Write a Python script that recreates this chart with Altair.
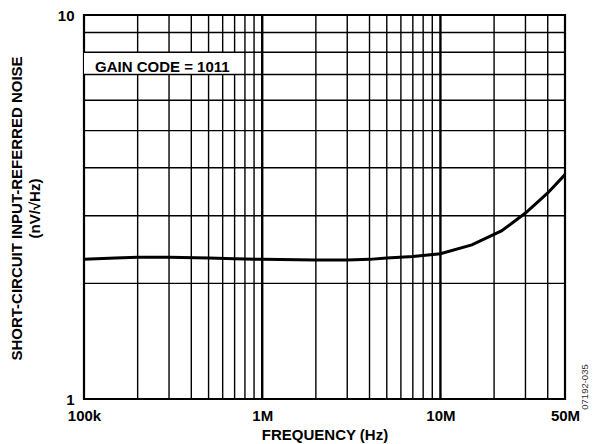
import altair as alt
import pandas as pd

# Curve data (frequency in Hz, noise in nV/√Hz)
freq = [1e5, 1.5e5, 2e5, 3e5, 5e5, 7e5, 1e6, 2e6, 3e6, 4e6, 5e6, 7e6, 1e7, 1.5e7, 2.2e7, 3e7, 4e7, 5e7]
noise = [2.31, 2.33, 2.34, 2.34, 2.33, 2.32, 2.31, 2.30, 2.30, 2.31, 2.33, 2.35, 2.39, 2.52, 2.74, 3.05, 3.44, 3.84]

# Grid positions
x_minor = [2e5, 3e5, 4e5, 5e5, 6e5, 7e5, 8e5, 9e5,
           2e6, 3e6, 4e6, 5e6, 6e6, 7e6, 8e6, 9e6,
           2e7, 3e7, 4e7]
x_major = [1e6, 1e7]
y_grid = [2, 3, 4, 5, 6, 7, 8, 9]

x_ticks = [1e5, 1e6, 1e7, 5e7]
y_ticks = [1, 10]

FONT = "Liberation Sans"
FS = 15

xs = alt.Scale(type="log", domain=[1e5, 5e7], nice=False)
ys = alt.Scale(type="log", domain=[1, 10], nice=False)

label_expr = ("datum.value == 100000 ? '100k' : datum.value == 1000000 ? '1M' : "
              "datum.value == 10000000 ? '10M' : '50M'")

curve_df = pd.DataFrame({"f": freq, "n": noise})

H = 384
W = 481

vminor = alt.Chart(pd.DataFrame({"f": x_minor})).mark_rule(color="black", strokeWidth=1.4).encode(
    x=alt.X("f:Q", scale=xs,
            axis=alt.Axis(values=x_ticks, labelExpr=label_expr, grid=False, ticks=False, domain=False,
                          labelFont=FONT, labelFontSize=FS, labelFontWeight="bold", labelColor="black",
                          labelPadding=21, labelBaseline="alphabetic", labelFlush=False,
                          title="FREQUENCY (Hz)", titleFont=FONT, titleFontSize=FS,
                          titleFontWeight="bold", titleColor="black",
                          titleY=40, titleBaseline="alphabetic")),
    y=alt.value(0), y2=alt.value(H))

vmajor = alt.Chart(pd.DataFrame({"f": x_major})).mark_rule(color="black", strokeWidth=2.4).encode(
    x=alt.X("f:Q", scale=xs), y=alt.value(0), y2=alt.value(H))

box = alt.Chart(pd.DataFrame({"a": [0]})).mark_rect(color="white").encode(
    x=alt.datum(1e5, scale=xs), x2=alt.datum(7.9e5), y=alt.datum(8, scale=ys), y2=alt.datum(7))

hgrid = alt.Chart(pd.DataFrame({"n": y_grid})).mark_rule(color="black", strokeWidth=1.4).encode(
    y=alt.Y("n:Q", scale=ys,
            axis=alt.Axis(values=y_ticks, format="d", grid=False, ticks=False, domain=False,
                          labelFont=FONT, labelFontSize=FS, labelFontWeight="bold", labelColor="black",
                          labelPadding=10, labelFlush=False,
                          title=["SHORT-CIRCUIT INPUT-REFERRED NOISE", "(nV/√Hz)"],
                          titleFont=FONT, titleFontSize=FS, titleFontWeight="bold", titleColor="black",
                          titleLineHeight=18, titleX=-75, titleY=193, titleBaseline="top",
                          titleAlign="center", titleAngle=-90)),
    x=alt.value(0), x2=alt.value(W))

curve = alt.Chart(curve_df).mark_line(color="black", strokeWidth=3).encode(
    x=alt.X("f:Q", scale=xs), y=alt.Y("n:Q", scale=ys))

label = alt.Chart(pd.DataFrame({"t": ["GAIN CODE = 1011"]})).mark_text(
    font=FONT, fontSize=FS, fontWeight="bold", color="black", align="left", baseline="middle"
).encode(text="t:N", x=alt.value(11), y=alt.value(52))

side = alt.Chart(pd.DataFrame({"t": ["07192-035"]})).mark_text(
    font=FONT, fontSize=9.5, color="#333333", angle=270, align="center", baseline="middle"
).encode(text="t:N", x=alt.value(501), y=alt.value(H - 12))

chart = alt.layer(vminor, vmajor, box, hgrid, curve, label, side).properties(
    width=W, height=H,
    padding={"left": 76, "top": 7, "right": 25, "bottom": 45},
    autosize=alt.AutoSizeParams(type="none"),
    background="white",
).configure_view(stroke="black", strokeWidth=2.2)

chart.save("out.html", embed_options={"renderer": "svg", "actions": False})
